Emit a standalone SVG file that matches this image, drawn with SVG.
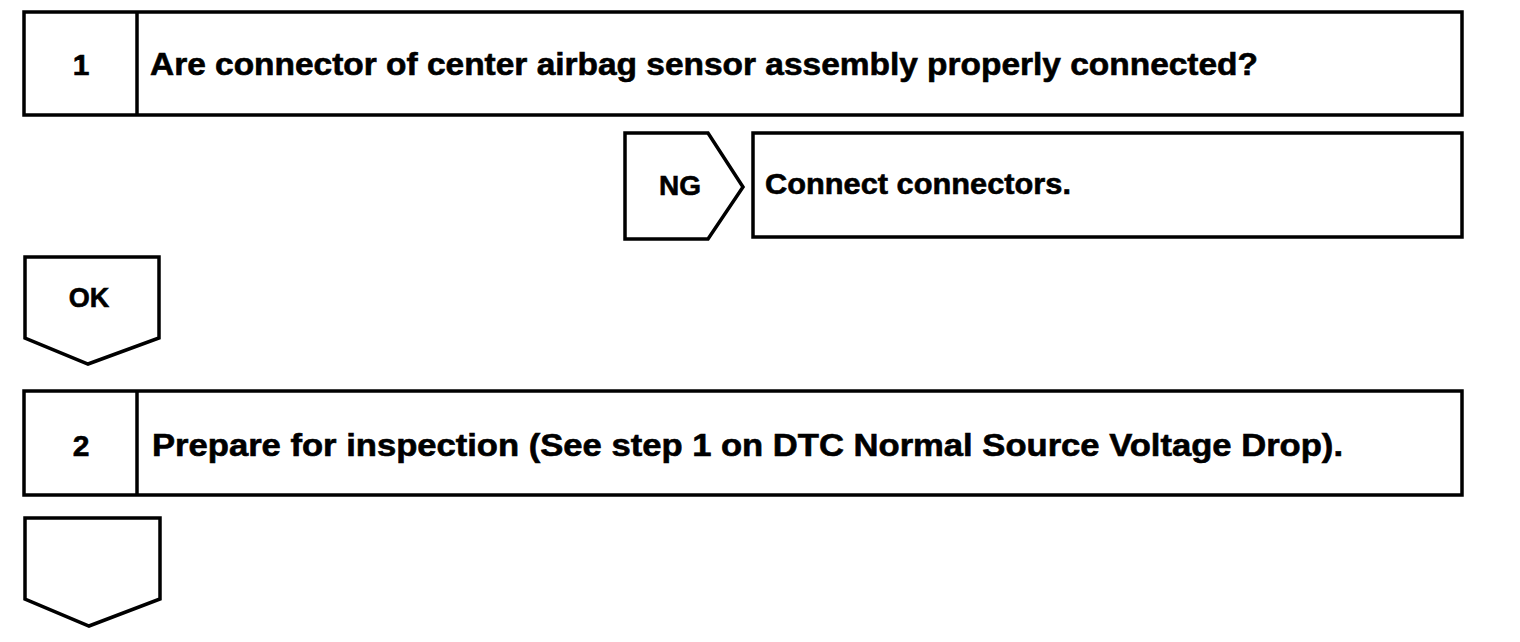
<svg xmlns="http://www.w3.org/2000/svg" width="1520" height="642" viewBox="0 0 1520 642">
<style>
.box{fill:#fff;stroke:#000;stroke-width:3.5;stroke-linejoin:miter}
.t{font-family:"Liberation Sans",Arial,sans-serif;font-weight:bold;fill:#000;stroke:#000;stroke-width:0.6}
</style>
<rect width="1520" height="642" fill="#fff"/>
<g id="step1">
<rect class="box" x="24" y="12" width="1438" height="103"/>
<line class="box" x1="137" y1="12" x2="137" y2="115"/>
<text class="t" x="81" y="75" font-size="30" text-anchor="middle">1</text>
<text class="t" x="150" y="75" font-size="31" textLength="1108" lengthAdjust="spacingAndGlyphs">Are connector of center airbag sensor assembly properly connected?</text>
</g>
<g id="ng">
<path class="box" d="M625,133 H708 L743,187 L708,239 H625 Z"/>
<text class="t" x="680" y="195" font-size="28" text-anchor="middle">NG</text>
</g>
<g id="fix">
<rect class="box" x="753" y="133" width="709" height="104"/>
<text class="t" x="765" y="194" font-size="29" textLength="306" lengthAdjust="spacingAndGlyphs">Connect connectors.</text>
</g>
<g id="ok">
<path class="box" d="M25,257 H159 V338 L88,364 L25,338 Z"/>
<text class="t" x="89" y="307" font-size="27" text-anchor="middle">OK</text>
</g>
<g id="step2">
<rect class="box" x="24" y="391" width="1438" height="104"/>
<line class="box" x1="137" y1="391" x2="137" y2="495"/>
<text class="t" x="81" y="456" font-size="30" text-anchor="middle">2</text>
<text class="t" x="152" y="456" font-size="31" textLength="1191" lengthAdjust="spacingAndGlyphs">Prepare for inspection (See step 1 on DTC Normal Source Voltage Drop).</text>
</g>
<g id="next">
<path class="box" d="M25,518 H160 V599 L89,626 L25,599 Z"/>
</g>
<g id="connectors"></g>
</svg>
